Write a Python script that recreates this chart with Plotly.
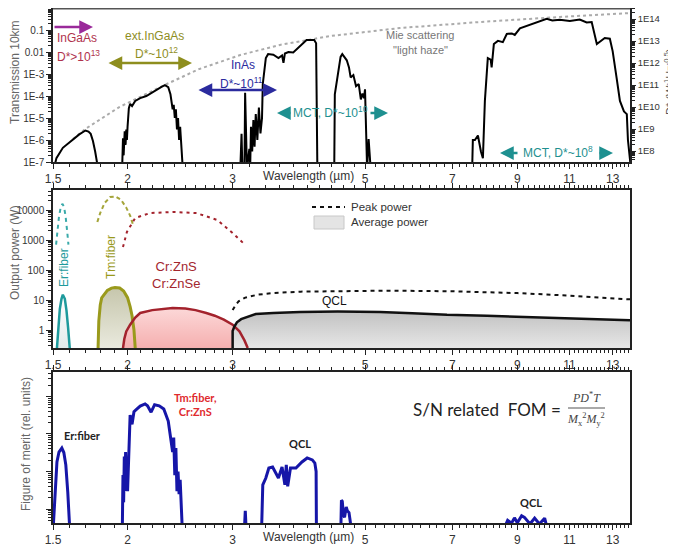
import math
import numpy as np
import plotly.graph_objects as go

# ======================= DATA =======================
# --- top panel: atmospheric transmission over 10 km (black) ---
trans_wl = [1.505, 1.52, 1.558, 1.62, 1.66, 1.70, 1.72, 1.735, 1.75, 1.765, 1.78, 1.785,
            1.955, 1.96, 1.965, 1.97, 1.978, 1.985, 1.99, 1.995, 2.0, 2.01, 2.02, 2.035, 2.06, 2.1,
            2.15, 2.2, 2.24, 2.28, 2.31, 2.34, 2.36, 2.37, 2.38, 2.39, 2.40, 2.41, 2.42, 2.43,
            2.44, 2.45, 2.46, 2.47, 2.475,
            3.09, 3.105, 3.115, 3.14, 3.148, 3.158, 3.17, 3.2, 3.21, 3.22, 3.235, 3.25, 3.265,
            3.28, 3.3, 3.32, 3.34, 3.36, 3.37, 3.41, 3.44, 3.51, 3.58, 3.63, 3.65, 3.67, 3.72,
            3.79, 3.86, 3.93, 3.99, 4.11, 4.14, 4.16,
            4.44, 4.45, 4.5, 4.55, 4.58, 4.62, 4.66, 4.70, 4.73, 4.78, 4.83, 4.88, 4.92, 4.95,
            4.98, 5.0, 5.02, 5.04, 5.07, 5.1, 5.11,
            7.56, 7.58, 7.64, 7.73, 7.82, 7.88, 7.94, 8.0, 8.03, 8.12, 8.15, 8.22, 8.35, 8.51,
            8.64, 8.81, 8.91, 9.09, 9.3, 9.55, 9.8, 10.08, 10.3, 10.6, 11.02, 11.45, 11.76,
            11.99, 12.23, 12.61, 12.86, 13.0, 13.2, 13.37, 13.58, 13.73, 13.79, 13.88, 13.95]
trans_val = [5e-8, 1.5e-7, 4.4e-7, 1.1e-6, 1.8e-6, 2.7e-6, 2.4e-6, 1.9e-6, 9e-7, 3e-7, 1e-7, 5e-8,
             5e-8, 1e-7, 1.2e-6, 2e-7, 2.5e-6, 6e-7, 3e-6, 1e-6, 4e-6, 2.8e-5, 4.4e-5, 3.5e-5, 6e-5, 8e-5,
             1.0e-4, 1.5e-4, 1.9e-4, 2.6e-4, 3.1e-4, 2.5e-4, 1.2e-4, 6e-5, 2.5e-5, 4e-5, 1e-5, 2.5e-5, 3e-6, 1e-5,
             1e-6, 4e-6, 5e-7, 1e-7, 5e-8,
             5e-8, 1.9e-6, 5e-8, 5e-8, 1.4e-4, 2e-6, 5e-8, 4e-7, 5e-8, 4e-6, 3e-7, 8e-6, 5e-7,
             1.5e-5, 1e-6, 3e-5, 2e-6, 1e-5, 3.5e-4, 5.3e-3, 8e-3, 7.5e-3, 5.3e-3, 7e-3, 3.2e-3, 8.5e-3, 1.0e-2,
             9.5e-3, 1.5e-2, 2.6e-2, 3.5e-2, 3.5e-2, 2.5e-2, 5e-8,
             5e-8, 1.2e-4, 1e-3, 6e-3, 8e-3, 5.5e-3, 4.2e-3, 2e-3, 7e-4, 9e-4, 2.8e-4, 3.5e-4, 7e-5, 1.3e-4,
             8e-5, 2e-4, 3e-6, 5e-8, 1.1e-6, 2e-7, 5e-8,
             5e-8, 1e-6, 1e-6, 1.6e-6, 3e-7, 1.5e-7, 6e-5, 2e-3, 5.3e-3, 4.5e-3, 2e-3, 0.023, 0.032, 0.028,
             0.066, 0.07, 0.06, 0.12, 0.15, 0.19, 0.25, 0.32, 0.27, 0.29, 0.26, 0.30, 0.22,
             0.23, 0.023, 0.043, 0.04, 0.011, 6.6e-4, 6e-5, 2e-5, 1.5e-5, 1e-6, 1e-7, 5e-8]

# Mie scattering ("light haze") limit, grey dotted
mie_wl = [1.62, 1.70, 1.94, 2.31, 2.64, 3.09, 3.6, 4.37, 5.72, 7.78, 10.6, 13.9]
mie_val = [1.1e-6, 3.2e-6, 3.2e-5, 3.2e-4, 1.7e-3, 7.3e-3, 0.021, 0.053, 0.123, 0.23, 0.39, 0.59]

# --- middle panel: output power (W) ---
er_avg_wl = [1.523, 1.53, 1.54, 1.55, 1.558, 1.57, 1.58, 1.59, 1.60]
er_avg_p = [0.25, 1.2, 5, 11, 15, 11, 4.5, 1.2, 0.25]
er_peak_wl = [1.518, 1.525, 1.535, 1.545, 1.555, 1.565, 1.575, 1.585, 1.592]
er_peak_p = [700, 2000, 6000, 12000, 16000, 13000, 6000, 1800, 700]

tm_avg_wl = [1.785, 1.79, 1.80, 1.81, 1.85, 1.88, 1.905, 1.94, 1.97, 2.0, 2.02, 2.035, 2.05, 2.06]
tm_avg_p = [0.25, 2, 6.8, 11.7, 21, 25, 26, 25, 20, 12, 6, 3, 1, 0.25]
tm_peak_wl = [1.78, 1.80, 1.83, 1.87, 1.91, 1.95, 1.99, 2.02, 2.04]
tm_peak_p = [4000, 8000, 17000, 27000, 28000, 22000, 12000, 6500, 3500]

cr_avg_wl = [1.965, 1.975, 1.99, 2.02, 2.06, 2.1, 2.2, 2.3, 2.38, 2.5, 2.6, 2.71, 2.8, 2.9, 3.0, 3.08, 3.14, 3.18]
cr_avg_p = [0.25, 0.5, 0.9, 1.5, 2.6, 3.7, 4.6, 5.2, 5.4, 5.2, 4.6, 3.7, 3.0, 2.2, 1.5, 0.9, 0.45, 0.25]
cr_peak_wl = [1.965, 1.995, 2.06, 2.18, 2.38, 2.61, 2.83, 3.0, 3.15]
cr_peak_p = [580, 1850, 5400, 7900, 8600, 7900, 4600, 1700, 680]

qcl_avg_wl = [3.0, 3.0, 3.02, 3.05, 3.1, 3.18, 3.28, 3.51, 3.89, 4.5, 5.3, 6.0, 6.86, 8.0, 9.45, 11.0, 12.5, 13.9]
qcl_avg_p = [0.25, 0.93, 1.3, 1.8, 2.3, 2.7, 3.4, 3.7, 4.0, 4.1, 4.0, 3.6, 3.2, 3.0, 2.7, 2.45, 2.25, 2.1]
qcl_peak_wl = [3.0, 3.03, 3.07, 3.15, 3.3, 3.5, 3.9, 4.5, 5.5, 7.0, 9.0, 11.0, 13.9]
qcl_peak_p = [4.6, 6.5, 9, 12, 15, 17, 19, 20, 20.5, 19.5, 17, 14, 10.5]

# --- bottom panel: figure of merit (rel. units) ---
fom_er_wl = [1.501, 1.512, 1.523, 1.535, 1.552, 1.564, 1.576, 1.588, 1.60]
fom_er_val = [0.3, 2.8, 18, 33, 42, 32, 15, 2.8, 0.3]
fom_tm_wl = [1.96, 1.965, 1.97, 1.975, 1.98, 1.985, 1.99, 1.995, 2.0, 2.005, 2.01, 2.02, 2.035, 2.05,
             2.07, 2.1, 2.14, 2.16, 2.19, 2.22, 2.26, 2.3, 2.34, 2.37, 2.38, 2.39, 2.40, 2.41, 2.42,
             2.43, 2.44, 2.45, 2.46, 2.47]
fom_tm_val = [0.3, 8, 1.5, 25, 3, 33, 5, 15, 3, 10, 60, 320, 180, 390, 450, 550, 630, 560, 380, 600,
              560, 460, 220, 60, 33, 80, 8, 42, 3, 10, 2.5, 6, 1.2, 0.3]
fom_s1_wl = [3.14, 3.15, 3.16]
fom_s1_val = [0.3, 0.9, 0.3]
fom_qcl_wl = [3.355, 3.37, 3.41, 3.45, 3.5, 3.55, 3.58, 3.63, 3.67, 3.69, 3.71, 3.75, 3.83, 3.92,
              4.0, 4.08, 4.12, 4.14, 4.145]
fom_qcl_val = [0.3, 4.4, 6.7, 12.4, 13.2, 8.1, 6.7, 13.2, 4.4, 14.9, 4.0, 12.4, 12.4, 17.9,
               22.9, 20.3, 16.8, 10, 0.3]
fom_s2_wl = [4.555, 4.565, 4.58, 4.6, 4.62, 4.65, 4.67, 4.70, 4.72, 4.74]
fom_s2_val = [0.3, 1.7, 1.6, 0.7, 0.6, 1.13, 0.9, 0.8, 0.5, 0.3]
fom_lw_wl = [8.55, 8.67, 8.8, 8.9, 9.0, 9.15, 9.25, 9.45, 9.62, 9.8, 10.0, 10.1]
fom_lw_val = [0.3, 0.5, 0.42, 0.58, 0.43, 0.66, 0.6, 0.4, 0.57, 0.4, 0.57, 0.3]

# --- ticks ---
x_tick_vals = [1.5, 2, 3, 5, 7, 9, 11, 13]
x_tick_text = ["1.5", "2", "3", "5", "7", "9", "11", "13"]
trans_tick_vals = [1e-7, 1e-6, 1e-5, 1e-4, 1e-3, 1e-2, 1e-1]
trans_tick_text = ["1E-7", "1E-6", "1E-5", "1E-4", "1E-3", "0.01", "0.1"]
dstar_tick_vals = [1e8, 1e9, 1e10, 1e11, 1e12, 1e13, 1e14]
dstar_tick_text = ["1E8", "1E9", "1E10", "1E11", "1E12", "1E13", "1E14"]
power_tick_vals = [1, 10, 100, 1000, 10000]
power_tick_text = ["1", "10", "100", "1000", "10000"]
fom_tick_vals = [1, 10, 100, 1000]

# ======================= FIGURE =======================
# the page body has an 8 px margin, so the figure is sized/offset to land on the
# reference's screen positions (plot area: x 53..630, y 8..523 on screen)
OFF = 8
W, H = 676 - OFF, 549 - OFF
ML, MT = 53 - OFF, 0
PW, PH = 577, 515
MR, MB = W - ML - PW, H - MT - PH


def PX(px):  # screen px -> paper x
    return (px - 53) / PW


def PY(py):  # screen py -> paper y
    return (523 - py) / PH


X_RANGE = [math.log10(1.5), math.log10(13.9)]
FLOOR = 0.05
AXC = "#222222"
FONT = "Liberation Sans, Arial, sans-serif"
CAL = "Lato, Open Sans, sans-serif"

minor_x = [round(v, 2) for v in np.arange(1.6, 3.0, 0.1) if abs(v - 2) > 1e-6] + \
          [round(v, 2) for v in np.arange(3.2, 13.9, 0.2) if min(abs(v - m) for m in (5, 7, 9, 11, 13)) > 1e-6]


def log_minor(lo, hi):
    return [k * 10.0 ** n for n in range(lo, hi) for k in range(2, 10)]


fig = go.Figure()

# ---- top panel ----
fig.add_trace(go.Scatter(x=mie_wl, y=mie_val, mode="lines",
                         line=dict(color="#ababab", width=2, dash="dot"), xaxis="x", yaxis="y"))
fig.add_trace(go.Scatter(x=trans_wl, y=trans_val, mode="lines",
                         line=dict(color="black", width=2), xaxis="x", yaxis="y"))
fig.add_trace(go.Scatter(x=[], y=[], xaxis="x", yaxis="y2"))

# ---- middle panel ----
avg_sets = [
    (er_avg_wl, er_avg_p, "#1e9a9c", "#d6e3e3", "#ffffff", 2.5),
    (tm_avg_wl, tm_avg_p, "#9a9a1c", "#f6f6ef", "#c6c6ac", 3),
    (cr_avg_wl, cr_avg_p, "#a3222c", "#f29a9a", "#fcd8d8", 2.5),
    (qcl_avg_wl, qcl_avg_p, "#111111", "#fbfbfb", "#c2c2c2", 2.5),
]
for wl, p, col, cb, ct, w in avg_sets:
    fig.add_trace(go.Scatter(x=list(wl) + [wl[-1], wl[0]], y=list(p) + [FLOOR, FLOOR],
                             fill="toself", mode="lines", line=dict(width=0, color="rgba(0,0,0,0)"),
                             fillgradient=dict(type="vertical", colorscale=[[0, cb], [1, ct]]),
                             xaxis="x2", yaxis="y3", hoverinfo="skip"))
for wl, p, col, cb, ct, w in avg_sets:
    fig.add_trace(go.Scatter(x=wl, y=p, mode="lines", line=dict(color=col, width=w),
                             xaxis="x2", yaxis="y3"))

peak_sets = [
    (er_peak_wl, er_peak_p, "#3aaaaa", "4px,4px"),
    (tm_peak_wl, tm_peak_p, "#a5a53a", "4px,3px"),
    (cr_peak_wl, cr_peak_p, "#a3222c", "3px,4px"),
    (qcl_peak_wl, qcl_peak_p, "#111111", "4px,4px"),
]
for wl, p, col, d in peak_sets:
    fig.add_trace(go.Scatter(x=wl, y=p, mode="lines", line=dict(color=col, width=2, dash=d),
                             xaxis="x2", yaxis="y3"))

# ---- bottom panel ----
for wl, v in [(fom_er_wl, fom_er_val), (fom_tm_wl, fom_tm_val), (fom_s1_wl, fom_s1_val),
              (fom_qcl_wl, fom_qcl_val), (fom_s2_wl, fom_s2_val), (fom_lw_wl, fom_lw_val)]:
    fig.add_trace(go.Scatter(x=wl, y=v, mode="lines", line=dict(color="#1616a8", width=3),
                             xaxis="x3", yaxis="y4"))


def xax(anchor, mirror):
    return dict(type="log", range=X_RANGE, anchor=anchor, domain=[0, 1],
                tickmode="array", tickvals=x_tick_vals, ticktext=x_tick_text,
                ticks="outside", ticklen=5, tickwidth=1.2, tickcolor=AXC,
                showline=True, linecolor=AXC, linewidth=1.5, mirror=mirror,
                showgrid=False, zeroline=False,
                tickfont=dict(size=12, color="#333", family=FONT),
                minor=dict(tickvals=minor_x, ticks="outside", ticklen=3, tickcolor=AXC, showgrid=False))


def yax(rng, dom, anchor, tv, tt, minor_vals, mirror, show_labels=True, fsize=10):
    d = dict(type="log", range=rng, anchor=anchor, domain=dom,
             tickmode="array", tickvals=tv, showticklabels=show_labels,
             ticks="outside", ticklen=5, tickwidth=1.2, tickcolor=AXC,
             showline=True, linecolor=AXC, linewidth=1.5, mirror=mirror,
             showgrid=False, zeroline=False,
             tickfont=dict(size=fsize, color="#333", family=FONT),
             minor=dict(tickvals=minor_vals, ticks="outside", ticklen=3, tickcolor=AXC, showgrid=False))
    if tt is not None:
        d["ticktext"] = tt
    return d


top_dom = [PY(162), 1.0]
mid_dom = [PY(348), PY(190)]
bot_dom = [0.0, PY(372)]

yaxis1 = yax([-7, 0], top_dom, "x", trans_tick_vals, trans_tick_text, log_minor(-7, 0), False)
yaxis2 = yax([7.5, 14.5], top_dom, "x", dstar_tick_vals, dstar_tick_text, log_minor(7, 15), False,
             fsize=9.5)
yaxis2.update(overlaying="y", side="right", ticklen=4)
yaxis3 = yax([-0.6, 4.667], mid_dom, "x2", power_tick_vals, power_tick_text, log_minor(-1, 5), True)
yaxis4 = yax([-0.373, 3.65], bot_dom, "x3", fom_tick_vals, None, log_minor(-1, 4), True, show_labels=False)

xaxis1 = xax("y", False)
xaxis2 = xax("y3", "ticks")
xaxis3 = xax("y4", "ticks")

ann = []


def text(t, px, py, color="#333", size=12, family=FONT, xanchor="center", angle=0):
    ann.append(dict(text=t, x=PX(px), y=PY(py), xref="paper", yref="paper", showarrow=False,
                    xanchor=xanchor, yanchor="middle", textangle=angle,
                    font=dict(color=color, size=size, family=family)))


def arrow(hx, hy, tx, ty, color, both=False):
    ann.append(dict(text="", x=PX(hx), y=PY(hy), xref="paper", yref="paper",
                    ax=tx - hx, ay=ty - hy, axref="pixel", ayref="pixel", showarrow=True,
                    arrowhead=2, startarrowhead=2, arrowsize=1.1, startarrowsize=1.1, arrowwidth=2.5,
                    arrowcolor=color, arrowside="end+start" if both else "end"))


# top panel labels
C_IG, C_IGA, C_EXT, C_INAS, C_MCT = "#b0334d", "#9a2a9a", "#8e8e1e", "#2b2b9e", "#1e9090"
arrow(93, 27, 53, 27, C_IGA)
text("InGaAs", 55, 38, C_IG, 12, xanchor="left")
text("D*>10<sup>13</sup>", 55, 56, C_IG, 12, xanchor="left")
text("ext.InGaAs", 154, 36, C_EXT, 12)
text("D*~10<sup>12</sup>", 156, 53, C_EXT, 12)
arrow(192, 63, 107, 63, C_EXT, both=True)
text("InAs", 243, 65, C_INAS, 12)
text("D*~10<sup>11</sup>", 241, 83, C_INAS, 12)
arrow(277, 90, 197, 90, C_INAS, both=True)
text("MCT, D*~10<sup>10</sup>", 330, 112, C_MCT, 12)
arrow(277, 113, 292, 113, C_MCT)
arrow(388, 113, 369, 113, C_MCT)
text("MCT, D*~10<sup>8</sup>", 558, 152, C_MCT, 12)
arrow(500, 153, 519, 153, C_MCT)
arrow(613, 153, 598, 153, C_MCT)
text("Mie scattering", 420, 35, "#777", 11)
text('"light haze"', 420, 50, "#777", 11)
text("Wavelength (µm)", 308, 176, "#333", 12)
text("Wavelength (µm)", 308, 537, "#333", 12)

# axis titles
text("Transmission 10km", 15, 72, "#666", 12, angle=-90)
text("D* (W<sup>-1</sup>Hz<sup>-0.5</sup>)", 669, 82, "#555", 11, angle=-90)
text("Output power (W)", 15, 253, "#666", 12, angle=-90)
text("Figure of merit (rel. units)", 26, 444, "#666", 12, angle=-90)

# middle panel labels
text("Er:fiber", 64, 268, "#1e9a9c", 12, angle=-90)
text("Tm:fiber", 111, 257, "#9a9a1c", 12, angle=-90)
text("Cr:ZnS<br>Cr:ZnSe", 176, 275, "#a3262e", 13)
text("QCL", 334, 301, "#111", 12)
text("Peak power", 349, 207, "#333", 11.5, xanchor="left")
text("Average power", 349, 222, "#333", 11.5, xanchor="left")

# bottom panel labels
text("<b>Er:fiber</b>", 82, 435, "#222", 11, CAL)
text("<b>Tm:fiber,<br>Cr:ZnS</b>", 195, 404, "#e02a2e", 11, CAL)
text("<b>QCL</b>", 300, 443, "#222", 11, CAL)
text("<b>QCL</b>", 531, 502, "#222", 11, CAL)
text("S/N related  FOM =", 563, 409, "#222", 17, CAL, xanchor="right")
text("<i>PD</i><sup>*</sup><i>T</i>", 586, 397, "#444", 12, "Liberation Serif, DejaVu Serif, serif")
text("<i>M</i><sub>x</sub><sup>2</sup><i>M</i><sub>y</sub><sup>2</sup>", 586, 419, "#444", 12,
     "Liberation Serif, DejaVu Serif, serif")

shapes = [
    dict(type="line", xref="paper", yref="paper", x0=0, x1=1, y0=1, y1=1,
         line=dict(color="#555", width=3)),
    dict(type="line", xref="paper", yref="paper", x0=PX(312), x1=PX(345), y0=PY(207), y1=PY(207),
         line=dict(color="#111", width=2, dash="4px,4px")),
    dict(type="rect", xref="paper", yref="paper", x0=PX(314), x1=PX(344), y0=PY(229), y1=PY(216),
         fillcolor="#e4e4e4", line=dict(color="#c8c8c8", width=1)),
    dict(type="line", xref="paper", yref="paper", x0=PX(568), x1=PX(605), y0=PY(408), y1=PY(408),
         line=dict(color="#555", width=1)),
]

fig.update_layout(
    width=W, height=H, margin=dict(l=ML, r=MR, t=MT, b=MB, pad=0),
    paper_bgcolor="white", plot_bgcolor="white", showlegend=False,
    font=dict(family=FONT, size=11, color="#333"),
    xaxis=xaxis1, xaxis2=xaxis2, xaxis3=xaxis3,
    yaxis=yaxis1, yaxis2=yaxis2, yaxis3=yaxis3, yaxis4=yaxis4,
    annotations=ann, shapes=shapes,
)

fig.write_html("out.html", config={"displayModeBar": False})
